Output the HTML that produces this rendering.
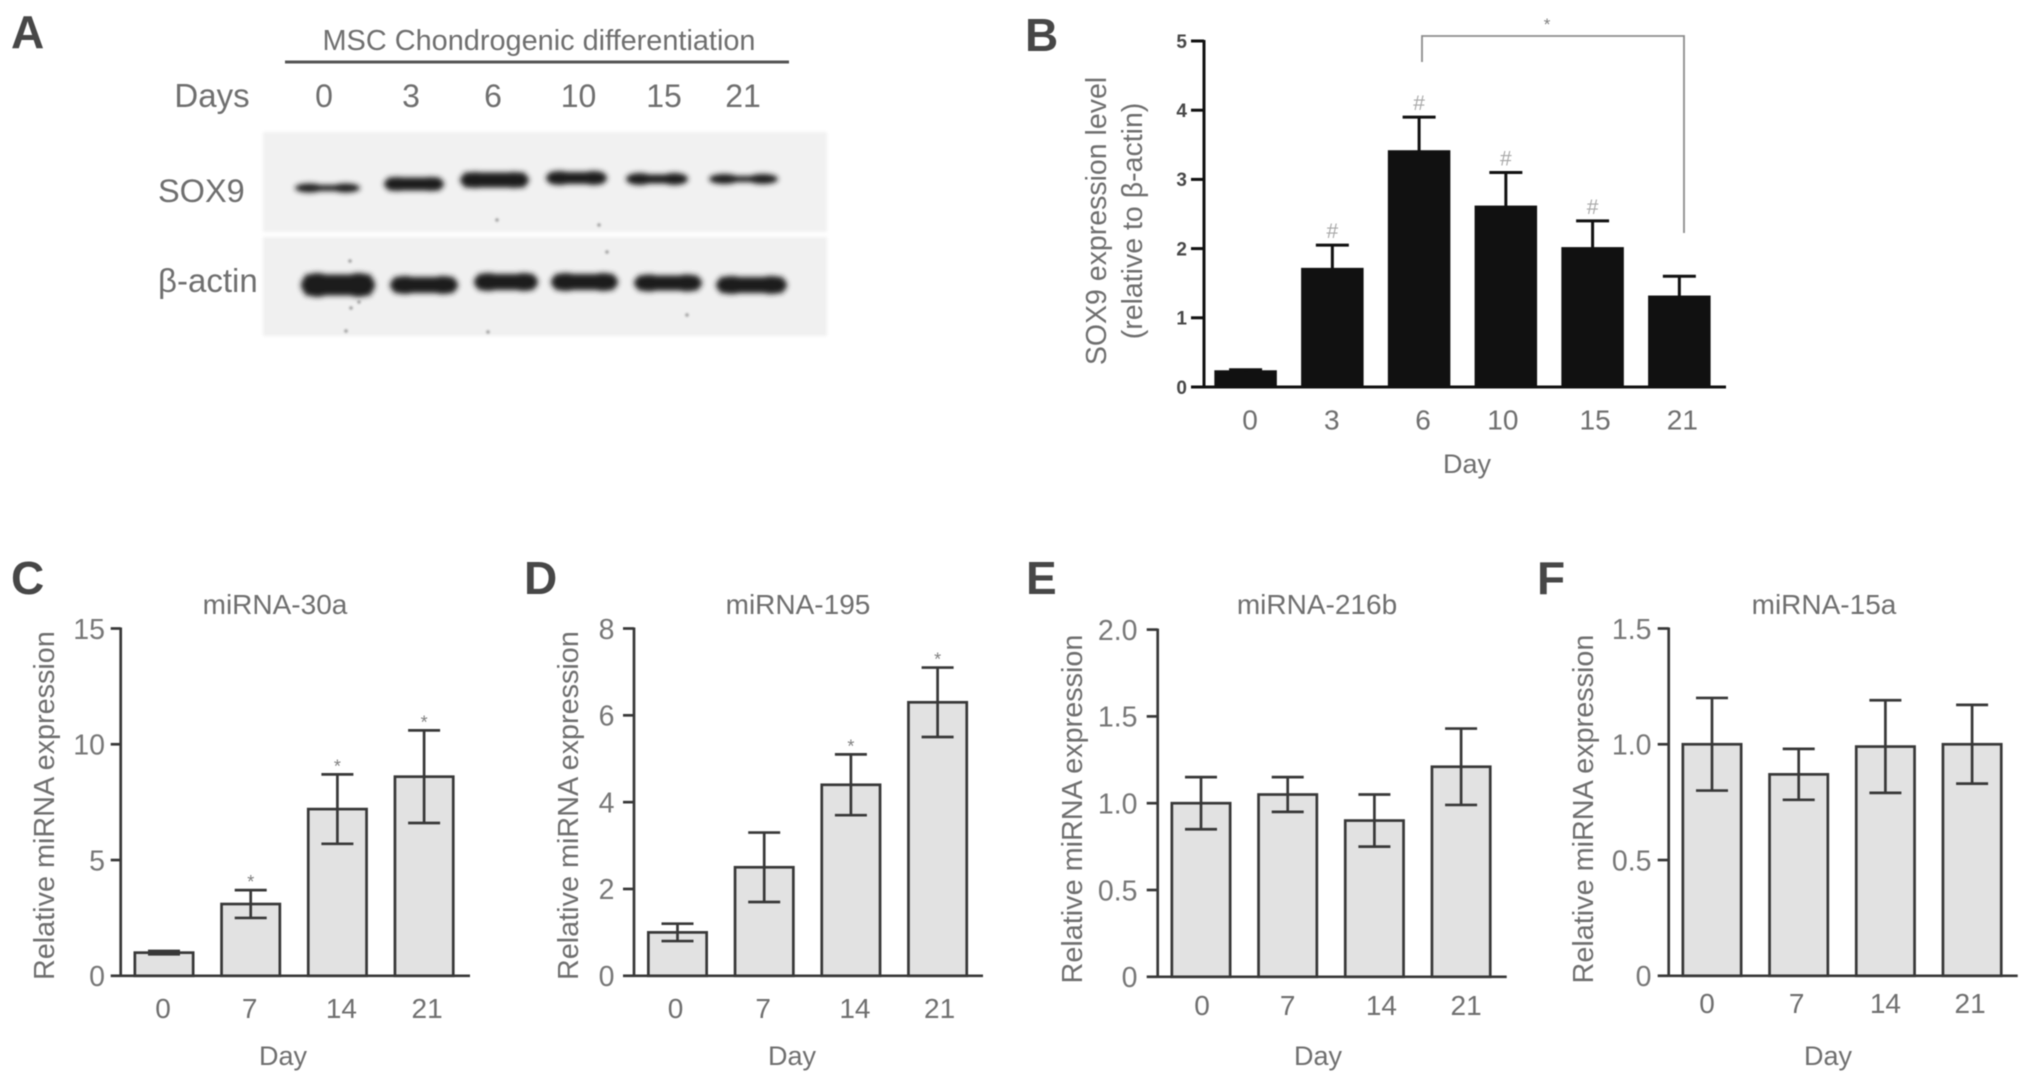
<!DOCTYPE html>
<html lang="en">
<head>
<meta charset="utf-8">
<title>SOX9 and miRNA expression during MSC chondrogenic differentiation</title>
<style>
html,body{margin:0;padding:0;background:#fff;width:2031px;height:1083px;overflow:hidden}
svg{display:block;filter:blur(.6px)}
text{font-family:"Liberation Sans",sans-serif;fill:#6f6f6f}
</style>
</head>
<body>
<svg id="figure" xmlns="http://www.w3.org/2000/svg" width="2031" height="1083" viewBox="0 0 2031 1083">
  <defs>
    <filter id="band-blur" x="-20%" y="-80%" width="140%" height="260%"><feGaussianBlur stdDeviation="2.6"/></filter>
    <filter id="speck-blur" x="-100%" y="-100%" width="300%" height="300%"><feGaussianBlur stdDeviation="1"/></filter>
    <filter id="blot-blur" x="-5%" y="-10%" width="110%" height="120%"><feGaussianBlur stdDeviation="1.5"/></filter>
  </defs>
  <rect width="2031" height="1083" fill="#fff"/>
</svg>
<script>
// ---------- Chart data: panel B ----------
const categoriesB = ['0', '3', '6', '10', '15', '21'];
const valuesB = [0.22, 1.7, 3.4, 2.6, 2.0, 1.3];
const upperB = [0.25, 2.05, 3.9, 3.1, 2.4, 1.6];
const lowerB = [0.22, 1.7, 3.4, 2.6, 2.0, 1.3];
const ticksB = [0, 1, 2, 3, 4, 5];
const tickLabelsB = ['0', '1', '2', '3', '4', '5'];
const marksB = ['', '#', '#', '#', '#', ''];

// ---------- Chart data: panel C ----------
const categoriesC = ['0', '7', '14', '21'];
const valuesC = [1.0, 3.1, 7.2, 8.6];
const upperC = [1.07, 3.7, 8.7, 10.6];
const lowerC = [0.93, 2.5, 5.7, 6.6];
const ticksC = [0, 5, 10, 15];
const tickLabelsC = ['0', '5', '10', '15'];
const marksC = ['', '*', '*', '*'];

// ---------- Chart data: panel D ----------
const categoriesD = ['0', '7', '14', '21'];
const valuesD = [1.0, 2.5, 4.4, 6.3];
const upperD = [1.2, 3.3, 5.1, 7.1];
const lowerD = [0.8, 1.7, 3.7, 5.5];
const ticksD = [0, 2, 4, 6, 8];
const tickLabelsD = ['0', '2', '4', '6', '8'];
const marksD = ['', '', '*', '*'];

// ---------- Chart data: panel E ----------
const categoriesE = ['0', '7', '14', '21'];
const valuesE = [1.0, 1.05, 0.9, 1.21];
const upperE = [1.15, 1.15, 1.05, 1.43];
const lowerE = [0.85, 0.95, 0.75, 0.99];
const ticksE = [0, 0.5, 1, 1.5, 2];
const tickLabelsE = ['0', '0.5', '1.0', '1.5', '2.0'];
const marksE = ['', '', '', ''];

// ---------- Chart data: panel F ----------
const categoriesF = ['0', '7', '14', '21'];
const valuesF = [1.0, 0.87, 0.99, 1.0];
const upperF = [1.2, 0.98, 1.19, 1.17];
const lowerF = [0.8, 0.76, 0.79, 0.83];
const ticksF = [0, 0.5, 1, 1.5];
const tickLabelsF = ['0', '0.5', '1.0', '1.5'];
const marksF = ['', '', '', ''];

// ---------- Drawing helpers ----------
const SVG_NS = 'http://www.w3.org/2000/svg';
const figure = document.getElementById('figure');

function make(tag, attrs, parent, content) {
  const node = document.createElementNS(SVG_NS, tag);
  for (const key in attrs) node.setAttribute(key, attrs[key]);
  if (content !== undefined) node.textContent = content;
  (parent || figure).appendChild(node);
  return node;
}

function line(parent, x1, y1, x2, y2, color, width) {
  return make('line', { x1: x1, y1: y1, x2: x2, y2: y2, stroke: color, 'stroke-width': width }, parent);
}

// ---------- Panel letters ----------
const panelLetters = [
  { t: 'A', x: 11, y: 48 }, { t: 'B', x: 1025, y: 51 }, { t: 'C', x: 11, y: 594 },
  { t: 'D', x: 524, y: 594 }, { t: 'E', x: 1026, y: 594 }, { t: 'F', x: 1537, y: 594 }
];
panelLetters.forEach(function (p) {
  const el = make('text', { x: p.x, y: p.y, 'font-size': 46, 'font-weight': 'bold', style: 'fill:#474747' }, figure, p.t);
  
  
});

// ---------- Panel A: western blot ----------
const panelA = make('g', {});



const blotHeader = make('text', { x: 539, y: 50, 'font-size': 29, 'text-anchor': 'middle', textLength: 433, lengthAdjust: 'spacingAndGlyphs' }, panelA, 'MSC Chondrogenic differentiation');



const blotRule = line(panelA, 285, 62, 789, 62, '#555', 3);



const daysLabel = make('text', { x: 212, y: 107, 'font-size': 33, 'text-anchor': 'middle' }, panelA, 'Days');



const blotDays = [['0', 324], ['3', 411], ['6', 493], ['10', 578.5], ['15', 664], ['21', 743]];
blotDays.forEach(function (d) {
  const el = make('text', { x: d[1], y: 107, 'font-size': 32, 'text-anchor': 'middle' }, panelA, d[0]);
  
  
});

const sox9Label = make('text', { x: 158, y: 202, 'font-size': 32.5 }, panelA, 'SOX9');



const actinLabel = make('text', { x: 158, y: 292, 'font-size': 33 }, panelA, 'β-actin');



const sox9Blot = make('rect', { x: 263, y: 132, width: 564, height: 100, fill: '#f1f1f1', filter: 'url(#blot-blur)' }, panelA);



const actinBlot = make('rect', { x: 263, y: 237, width: 564, height: 99, fill: '#f0f0f0', filter: 'url(#blot-blur)' }, panelA);



const sox9Bands = [[295, 360, 188, 6, 9], [384, 444, 184, 13, 14], [460, 529, 180, 15, 16], [546, 607, 178, 12, 14], [626, 688, 179, 9, 12], [709, 778, 179, 6, 10]];
const actinBands = [[301, 375, 285, 21, 24], [390, 458, 285, 16, 18], [474, 538, 282, 16, 18], [551, 618, 282, 16, 18], [634, 702, 283, 15, 17], [716, 787, 285, 16, 18]];

function drawBand(b, name, i, color) {
  const group = make('g', { filter: 'url(#band-blur)', fill: color }, panelA);
  
  
  const w = b[1] - b[0];
  make('rect', { x: b[0] + 4, y: b[2] - b[3] / 2, width: w - 8, height: b[3] }, group);
  make('ellipse', { cx: b[0] + w * 0.22, cy: b[2], rx: w * 0.22, ry: b[4] / 2 }, group);
  make('ellipse', { cx: b[0] + w * 0.78, cy: b[2], rx: w * 0.22, ry: b[4] / 2 }, group);
}
sox9Bands.forEach(function (b, i) { drawBand(b, 'sox9-band', i, '#1d1d1d'); });
actinBands.forEach(function (b, i) { drawBand(b, 'actin-band', i, '#1a1a1a'); });

const blotSpecks = [[350, 261], [359, 302], [351, 308], [346, 331], [488, 332], [497, 220], [599, 225], [607, 252], [687, 315]];
blotSpecks.forEach(function (s, i) {
  const el = make('circle', { cx: s[0], cy: s[1], r: 1.7, fill: '#999', filter: 'url(#speck-blur)' }, panelA);
  
  
});

// ---------- Bar chart panels ----------
const panels = [
  { id: 'b', cats: categoriesB, vals: valuesB, up: upperB, low: lowerB, ticks: ticksB, tickLabels: tickLabelsB, marks: marksB,
    axisX: 1204, tickL: 1191, right: 1726, top: 41, bottom: 387, first: 1245.6, pitch: 86.75, barW: 59.5, capW: 33,
    labelNudge: [4.5, -0.5, 4, -3, 2.5, 3], tickRight: 1187, tickSize: 19, tickWeight: 'bold', tickColor: '#484848',
    axisColor: '#111', barFill: '#111', barStroke: '#111', axisW: 3, labelY: 429.5, labelSize: 28,
    dayX: 1467, dayY: 473, title: null,
    yTitles: [{ t: 'SOX9 expression level', x: 1106, y: 221 }, { t: '(relative to β-actin)', x: 1142, y: 221 }], yTitleSize: 28.5,
    markSize: 21, markColor: '#a8a8a8', markGap: 7 },
  { id: 'c', cats: categoriesC, vals: valuesC, up: upperC, low: lowerC, ticks: ticksC, tickLabels: tickLabelsC, marks: marksC,
    axisX: 120.7, tickL: 110.7, right: 470, top: 628.5, bottom: 975.8, first: 164, pitch: 86.7, barW: 58.3, capW: 32,
    labelNudge: [-1, -1, 4, 3], tickRight: 105, tickSize: 28.5, tickWeight: 'normal', tickColor: '#777',
    axisColor: '#383838', barFill: '#e2e2e2', barStroke: '#383838', axisW: 2.7, labelY: 1018, labelSize: 28,
    dayX: 283, dayY: 1065, title: 'miRNA-30a', titleX: 275, titleY: 614,
    yTitles: [{ t: 'Relative miRNA expression', x: 54, y: 805.6 }], yTitleSize: 28.8,
    markSize: 18, markColor: '#808080', markGap: 2 },
  { id: 'd', cats: categoriesD, vals: valuesD, up: upperD, low: lowerD, ticks: ticksD, tickLabels: tickLabelsD, marks: marksD,
    axisX: 634, tickL: 623, right: 983, top: 628.5, bottom: 975.8, first: 677.5, pitch: 86.7, barW: 58.3, capW: 32,
    labelNudge: [-2, -1, 4, 2], tickRight: 614.5, tickSize: 28.5, tickWeight: 'normal', tickColor: '#777',
    axisColor: '#383838', barFill: '#e2e2e2', barStroke: '#383838', axisW: 2.7, labelY: 1018, labelSize: 28,
    dayX: 792, dayY: 1065, title: 'miRNA-195', titleX: 798, titleY: 614,
    yTitles: [{ t: 'Relative miRNA expression', x: 578, y: 805.6 }], yTitleSize: 28.8,
    markSize: 18, markColor: '#808080', markGap: 2 },
  { id: 'e', cats: categoriesE, vals: valuesE, up: upperE, low: lowerE, ticks: ticksE, tickLabels: tickLabelsE, marks: marksE,
    axisX: 1157.7, tickL: 1146.7, right: 1506.7, top: 629.6, bottom: 976.8, first: 1201, pitch: 86.7, barW: 58.3, capW: 32,
    labelNudge: [1, 0, 7, 5], tickRight: 1137.5, tickSize: 28.5, tickWeight: 'normal', tickColor: '#777',
    axisColor: '#383838', barFill: '#e2e2e2', barStroke: '#383838', axisW: 2.7, labelY: 1015, labelSize: 28,
    dayX: 1318, dayY: 1065, title: 'miRNA-216b', titleX: 1317, titleY: 614,
    yTitles: [{ t: 'Relative miRNA expression', x: 1082, y: 809 }], yTitleSize: 28.8,
    markSize: 18, markColor: '#808080', markGap: 2 },
  { id: 'f', cats: categoriesF, vals: valuesF, up: upperF, low: lowerF, ticks: ticksF, tickLabels: tickLabelsF, marks: marksF,
    axisX: 1668.7, tickL: 1657.7, right: 2017.7, top: 628.5, bottom: 975.8, first: 1712, pitch: 86.7, barW: 58.3, capW: 32,
    labelNudge: [-5, -2, 0, -2], tickRight: 1651.5, tickSize: 28.5, tickWeight: 'normal', tickColor: '#777',
    axisColor: '#383838', barFill: '#e2e2e2', barStroke: '#383838', axisW: 2.7, labelY: 1013, labelSize: 28,
    dayX: 1828, dayY: 1065, title: 'miRNA-15a', titleX: 1824, titleY: 614,
    yTitles: [{ t: 'Relative miRNA expression', x: 1593, y: 809 }], yTitleSize: 28.8,
    markSize: 18, markColor: '#808080', markGap: 2 }
];

function drawPanel(p) {
  const maxTick = p.ticks[p.ticks.length - 1];
  const yScale = function (v) { return p.bottom - (v / maxTick) * (p.bottom - p.top); };
  const xScale = function (i) { return p.first + i * p.pitch; };

  const g = make('g', {});
  
  

  if (p.title) {
    const title = make('text', { x: p.titleX, y: p.titleY, 'font-size': 28, 'text-anchor': 'middle' }, g, p.title);
    
    
  }

  p.yTitles.forEach(function (yt, i) {
    const el = make('text', { x: 0, y: 0, 'font-size': p.yTitleSize, 'text-anchor': 'middle', transform: 'translate(' + yt.x + ' ' + yt.y + ') rotate(-90)' }, g, yt.t);
    
    
  });

  p.vals.forEach(function (v, i) {
    const cx = xScale(i);
    const bar = make('rect', { x: cx - p.barW / 2, y: yScale(v), width: p.barW, height: p.bottom - yScale(v), fill: p.barFill, stroke: p.barStroke, 'stroke-width': p.axisW }, g);
    
    

    const stem = line(g, cx, yScale(p.up[i]), cx, yScale(p.low[i]), p.axisColor, p.axisW);
    
    

    const capTop = line(g, cx - p.capW / 2, yScale(p.up[i]), cx + p.capW / 2, yScale(p.up[i]), p.axisColor, p.axisW);
    
    

    if (p.low[i] !== v) {
      const capLow = line(g, cx - p.capW / 2, yScale(p.low[i]), cx + p.capW / 2, yScale(p.low[i]), p.axisColor, p.axisW);
      
      
    }

    if (p.marks[i]) {
      const sig = make('text', { x: cx, y: yScale(p.up[i]) - p.markGap, 'font-size': p.markSize, 'text-anchor': 'middle', style: 'fill:' + p.markColor }, g, p.marks[i]);
      
      
    }

    const label = make('text', { x: cx + p.labelNudge[i], y: p.labelY, 'font-size': p.labelSize, 'text-anchor': 'middle' }, g, p.cats[i]);
    
    
  });

  const yAxis = line(g, p.axisX, p.top - 1, p.axisX, p.bottom + 1, p.axisColor, p.axisW);
  
  

  const xAxis = line(g, p.axisX, p.bottom, p.right, p.bottom, p.axisColor, p.axisW);
  
  

  p.ticks.forEach(function (t, i) {
    const tick = line(g, p.tickL, yScale(t), p.axisX, yScale(t), p.axisColor, p.axisW);
    
    

    const tl = make('text', { x: p.tickRight, y: yScale(t) + p.tickSize * 0.36, 'font-size': p.tickSize, 'font-weight': p.tickWeight, 'text-anchor': 'end', style: 'fill:' + p.tickColor }, g, p.tickLabels[i]);
    
    
  });

  const dayTitle = make('text', { x: p.dayX, y: p.dayY, 'font-size': 27, 'text-anchor': 'middle' }, g, 'Day');
  
  
}
panels.forEach(drawPanel);

// ---------- Panel B significance bracket ----------
const bracket = make('path', { d: 'M1422 62V36H1684V233', fill: 'none', stroke: '#8c8c8c', 'stroke-width': 1.8 });



const bracketStar = make('text', { x: 1547, y: 30, 'font-size': 17, 'text-anchor': 'middle', style: 'fill:#808080' }, figure, '*');


</script>
</body>
</html>
